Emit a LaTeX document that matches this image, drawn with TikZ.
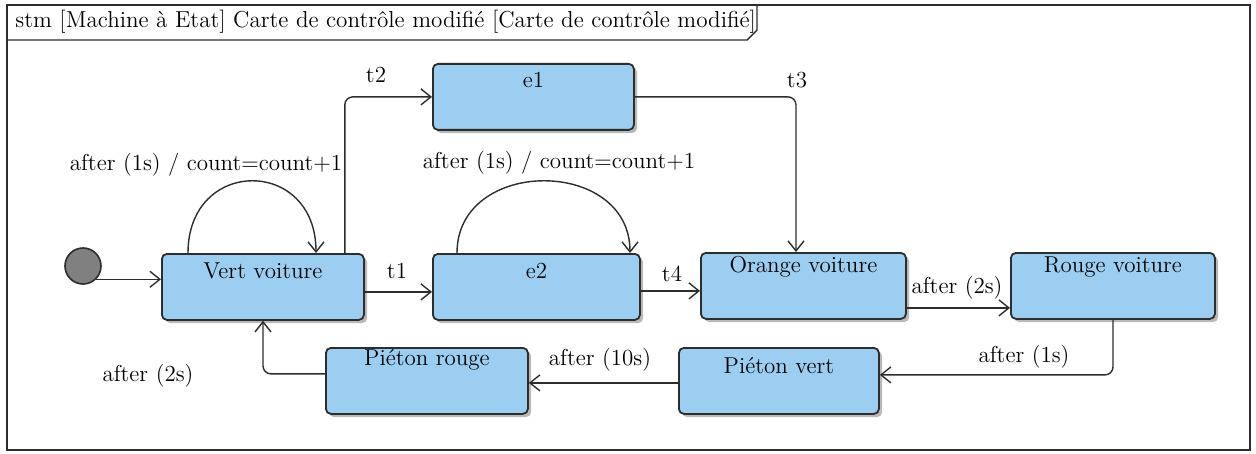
\documentclass[tikz,border=0pt]{standalone}
\usetikzlibrary{arrows.meta,shadows,calc}
\definecolor{stateblue}{RGB}{155,206,240}
\definecolor{inkline}{RGB}{45,45,45}
\begin{document}
\begin{tikzpicture}[x=0.5pt,y=-0.5pt,
  font=\fontsize{11.5}{13}\selectfont,
  state/.style={draw=inkline, line width=0.9pt, fill=stateblue,
    rounded corners=2.5pt, anchor=north west, inner xsep=0pt, inner ysep=3pt,
    drop shadow={shadow xshift=1.6pt,shadow yshift=-1.6pt,fill=black!55,opacity=.5}},
  lbl/.style={inner sep=1pt, text=black},
  arr/.style={draw=inkline, line width=0.7pt, -{Straight Barb[length=5pt,width=8pt]}},
  elbow/.style={arr, rounded corners=4pt},
  frameline/.style={draw=inkline, line width=0.7pt}]
\useasboundingbox (0,0) rectangle (1256,454);

% diagram frame with its title tab
\draw[frameline] (7,5) rectangle (1250,450);
\draw[frameline] (7,40) -- (747,40) -- (757,30) -- (757,5);
\node[lbl, anchor=west, font=\fontsize{11.55}{13}\selectfont] (title) at (13,22)
  {stm [Machine à Etat] Carte de contrôle modifié [Carte de contrôle modifié]};

% initial pseudo-state
\node[circle, draw=inkline, line width=0.8pt, fill=black!50, minimum size=18pt, inner sep=0pt]
  (init) at (83,266) {};

% states
\node[state, minimum width=101pt, text height=9.5pt, text depth=17.5pt] (vert) at (161,253) {Vert voiture};
\node[state, minimum width=100.5pt, text height=9pt, text depth=18pt] (e1) at (432,63) {e1};
\node[state, minimum width=103.5pt, text height=9.5pt, text depth=17.5pt] (e2) at (432,253) {e2};
\node[state, minimum width=102.5pt, text height=7pt, text depth=20pt] (orange) at (700,252) {Orange voiture};
\node[state, minimum width=102pt, text height=7pt, text depth=20pt] (rouge) at (1010,252) {Rouge voiture};
\node[state, minimum width=101pt, text height=6pt, text depth=21pt] (prouge) at (325,347) {Piéton rouge};
\node[state, minimum width=100pt, text height=10pt, text depth=17pt] (pvert) at (678,347) {Piéton vert};

% transitions
\draw[arr] (init.-45) -- (init.-45 -| vert.west);
\draw[arr] ($(vert.north west)+(27,0)$) .. controls +(0,-96) and +(0,-96) .. ($(vert.north west)+(155,0)$);
\draw[elbow] ($(vert.north east)+(-20,0)$) |- (e1.west);
\draw[arr] ([yshift=-2.5pt]vert.east) -- ([yshift=-2.5pt]vert.east -| e2.west);
\draw[arr] ($(e2.north west)+(25,0)$) .. controls +(0,-96) and +(0,-96) .. ($(e2.north west)+(198,0)$);
\draw[elbow] (e1.east) -| ($(orange.north west)+(96,0)$);
\draw[arr] ([yshift=-2pt]e2.east) -- ([yshift=-2pt]e2.east -| orange.west);
\draw[arr] ([yshift=-11pt]orange.east) -- ([yshift=-11pt]orange.east -| rouge.west);
\draw[elbow] ($(rouge.south west)+(103,0)$) |- ([yshift=3pt]pvert.east);
\draw[arr] ([yshift=-1pt]pvert.west) -- ([yshift=-1pt]pvert.west -| prouge.east);
\draw[elbow] ([yshift=3.5pt]prouge.west) -| ($(vert.south west)+(102,0)$);

% transition labels
\node[lbl] (lloopa) at (206,165) {after (1s) / count=count+1};
\node[lbl] (lloopb) at (559,163) {after (1s) / count=count+1};
\node[lbl] (lt2) at (376,75) {t2};
\node[lbl] (lt1) at (397,271) {t1};
\node[lbl] (lt3) at (797,80) {t3};
\node[lbl] (lt4) at (672,274) {t4};
\node[lbl] (lor) at (957,288) {after (2s)};
\node[lbl] (lrp) at (1024,357) {after (1s)};
\node[lbl] (lpp) at (600,360) {after (10s)};
\node[lbl] (lpv) at (148,376) {after (2s)};
\end{tikzpicture}
\end{document}
